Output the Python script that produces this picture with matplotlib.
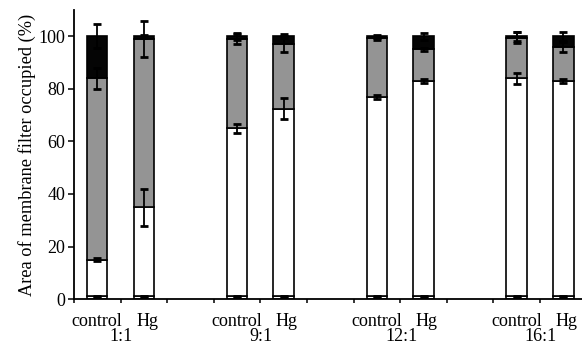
import numpy as np
import matplotlib.pyplot as plt

plt.rcParams['font.family'] = ['Liberation Serif', 'DejaVu Serif']

# ratios and treatments
groups = ['1:1', '9:1', '12:1', '16:1']
treatments = ['control', 'Hg']

# cumulative boundaries (%) for each bar, order: 1:1 control, 1:1 Hg, 9:1 control, ...
base_top = np.array([1.0, 1.0, 1.0, 1.0, 1.0, 1.0, 1.0, 1.0])
white_top = np.array([15.0, 35.0, 65.0, 72.5, 77.0, 83.0, 84.0, 83.0])
gray_top = np.array([84.0, 99.0, 99.0, 97.0, 99.3, 95.0, 99.5, 96.0])
black_top = np.array([100.0, 100.0, 100.0, 100.0, 100.0, 100.0, 100.0, 100.0])

# error bars at each boundary
base_err = np.array([0.3, 0.3, 0.3, 0.3, 0.3, 0.3, 0.3, 0.3])
white_err = np.array([0.6, 7.0, 1.7, 4.0, 0.8, 0.6, 2.0, 0.8])
gray_err = np.array([4.0, 7.0, 2.0, 3.0, 0.6, 0.6, 2.0, 2.0])
black_err = np.array([4.5, 0.5, 1.4, 0.8, 0.5, 1.4, 1.8, 1.8])

x = np.array([g * 3 + t + 0.5 for g in range(len(groups)) for t in range(len(treatments))])
w = 0.44

fig = plt.figure(figsize=(5.82, 3.45), dpi=100)
ax = fig.add_axes([0.127, 0.133, 0.873, 0.838])

edge = dict(edgecolor='black', linewidth=1.2, zorder=2)
ax.bar(x, base_top, w, color='white', **edge)
ax.bar(x, white_top - base_top, w, bottom=base_top, color='white', **edge)
ax.bar(x, gray_top - white_top, w, bottom=white_top, color='#949494', **edge)
ax.bar(x, black_top - gray_top, w, bottom=gray_top, color='#050505', **edge)

for top, err in [(base_top, base_err), (white_top, white_err),
                 (gray_top, gray_err), (black_top, black_err)]:
    ax.errorbar(x, top, yerr=err, fmt='none', ecolor='black',
                elinewidth=1.3, capsize=3, capthick=2, zorder=3)

ax.set_xlim(0, 10.9)
ax.set_ylim(0, 110)
ax.set_yticks(np.arange(0, 101, 20))
ax.set_xticks(np.arange(0, 11))
ax.set_xticklabels([])
ax.tick_params(axis='y', direction='out', length=4, width=1.1, labelsize=13, pad=2)
ax.tick_params(axis='x', direction='out', length=3, width=1.1)
for s in ['top', 'right']:
    ax.spines[s].set_visible(False)
for s in ['left', 'bottom']:
    ax.spines[s].set_linewidth(1.3)

ax.set_ylabel('Area of membrane filter occupied (%)', fontsize=13.2, labelpad=2)

trans = ax.get_xaxis_transform()
for gi, g in enumerate(groups):
    ax.text(gi * 3 + 0.5, -0.078, treatments[0], transform=trans,
            ha='center', va='center', fontsize=13)
    ax.text(gi * 3 + 1.57, -0.078, treatments[1], transform=trans,
            ha='center', va='center', fontsize=13)
    ax.text(gi * 3 + 1.02, -0.128, g, transform=trans,
            ha='center', va='center', fontsize=13)

fig.savefig('out.png', dpi=100)
